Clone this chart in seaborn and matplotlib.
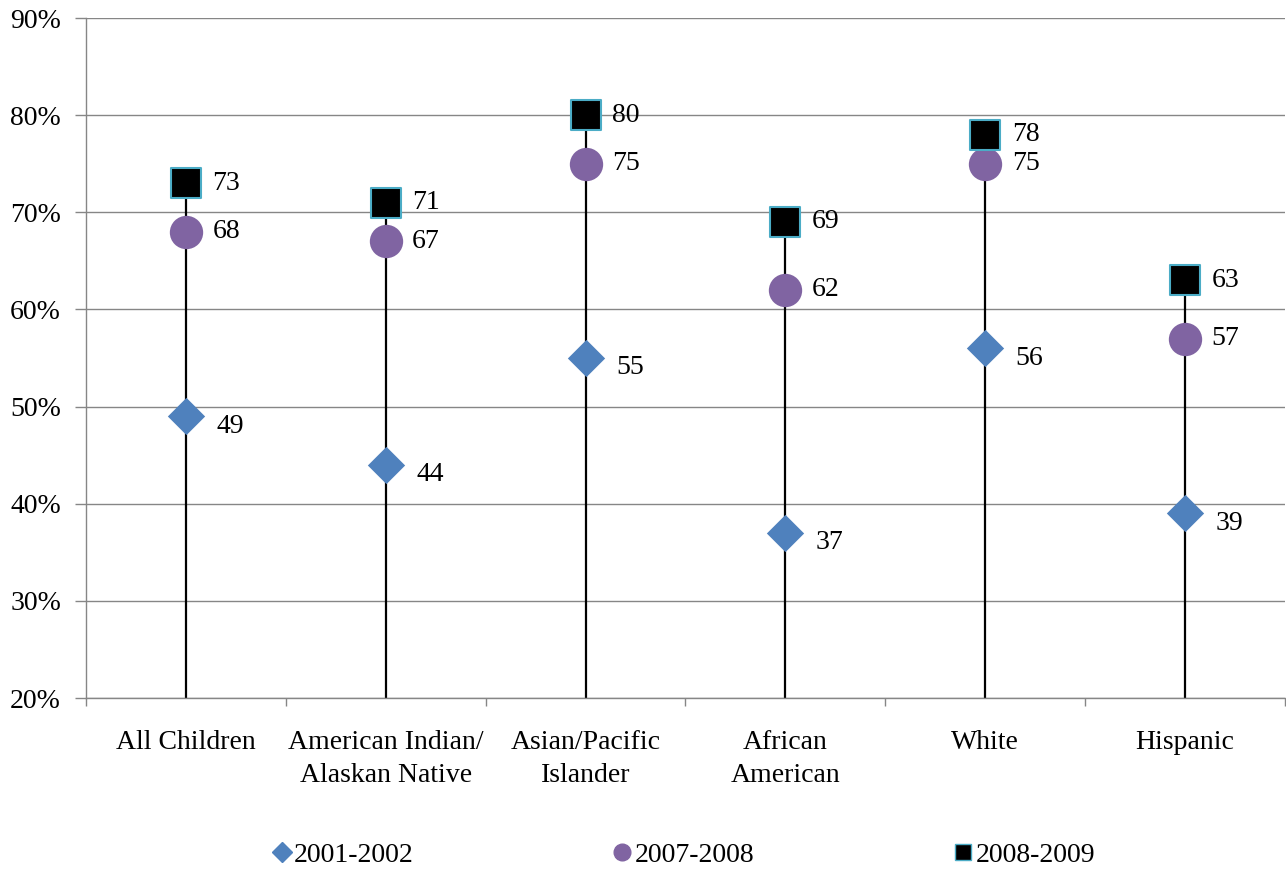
import matplotlib
matplotlib.use("Agg")
import matplotlib.pyplot as plt
from matplotlib.lines import Line2D
from matplotlib.ticker import FuncFormatter, MultipleLocator
import seaborn as sns
import pandas as pd

categories = ["All Children", "American Indian/\nAlaskan Native", "Asian/Pacific\nIslander",
              "African\nAmerican", "White", "Hispanic"]
s2001 = [49, 44, 55, 37, 56, 39]
s2007 = [68, 67, 75, 62, 75, 57]
s2008 = [73, 71, 80, 69, 78, 63]
series_names = ["2001-2002", "2007-2008", "2008-2009"]

sns.set_theme(style="white")
plt.rcParams["font.family"] = ["Liberation Serif", "DejaVu Serif"]
plt.rcParams["text.color"] = "black"
plt.rcParams["xtick.color"] = "black"
plt.rcParams["ytick.color"] = "black"
FS = 20

fig = plt.figure(figsize=(12.86, 8.69), dpi=100)
ax = fig.add_axes([86 / 1286, 1 - 698 / 869, 1199 / 1286, 680 / 869])

rows = []
for name, vals in zip(series_names, [s2001, s2007, s2008]):
    for i, v in enumerate(vals):
        rows.append({"x": i, "value": v, "series": name})
df = pd.DataFrame(rows)

# drop lines from axis bottom to max value
tops = [max(a, b, c) for a, b, c in zip(s2001, s2007, s2008)]
ax.vlines(range(len(categories)), 20, tops, color="black", lw=1.6, zorder=2)

styles = {
    "2001-2002": dict(marker="D", color="#4F81BD", ec="#4F81BD", ms=19, lw=0, dx=22, dy=-7),
    "2007-2008": dict(marker="o", color="#8064A2", ec="#8064A2", ms=24, lw=0, dx=19, dy=0),
    "2008-2009": dict(marker="s", color="black", ec="#4BACC6", ms=21, lw=1.5, dx=19, dy=0),
}
for name in series_names:
    st = styles[name]
    sub = df[df["series"] == name]
    sns.scatterplot(data=sub, x="x", y="value", marker=st["marker"], color=st["color"],
                    edgecolor=st["ec"], linewidth=st["lw"], s=st["ms"] ** 2, ax=ax,
                    zorder=3, legend=False)
    for xi, v in zip(sub["x"], sub["value"]):
        ax.annotate(f"{v}", (xi, v), xytext=(st["dx"], st["dy"]), textcoords="offset points",
                    ha="left", va="center", fontsize=FS, color="black")

ax.set_xlim(-0.5, len(categories) - 0.5)
ax.set_ylim(20, 90)
ax.yaxis.set_major_locator(MultipleLocator(10))
ax.yaxis.set_major_formatter(FuncFormatter(lambda v, p: f"{int(round(v))}%"))
ax.grid(axis="y", color="#868686", lw=1)
ax.set_axisbelow(True)
ax.set_xlabel("")
ax.set_ylabel("")

ax.set_xticks([i - 0.5 for i in range(len(categories) + 1)])
ax.set_xticklabels([])
ax.set_xticks(range(len(categories)), minor=True)
ax.set_xticklabels(categories, minor=True, fontsize=FS, linespacing=1.45)
ax.tick_params(axis="x", which="major", direction="out", length=6, color="#868686", width=1, bottom=True)
ax.tick_params(axis="x", which="minor", length=0, pad=23)
ax.tick_params(axis="y", direction="out", length=8, color="#868686", labelcolor="black",
               width=1, labelsize=FS, pad=10, left=True)

for side in ["top", "right"]:
    ax.spines[side].set_visible(False)
for side in ["left", "bottom"]:
    ax.spines[side].set_color("#868686")
    ax.spines[side].set_linewidth(1)

handles = [
    Line2D([], [], marker="D", color="#4F81BD", ls="none", ms=10),
    Line2D([], [], marker="o", color="#8064A2", ls="none", ms=12),
    Line2D([], [], marker="s", mfc="black", mec="#4BACC6", ls="none", ms=11),
]
fig.legend(handles, series_names, loc="center", bbox_to_anchor=(0.532, 1 - 855 / 869), ncol=3,
           frameon=False, fontsize=FS, handlelength=0.6, handletextpad=0.15, columnspacing=7.2)

fig.savefig("out.png", dpi=100)
